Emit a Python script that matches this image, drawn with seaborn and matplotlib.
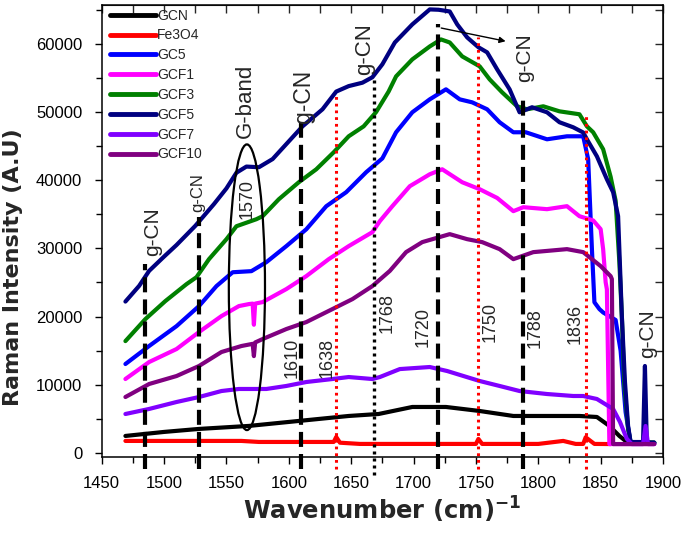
import matplotlib
matplotlib.use("Agg")
import matplotlib.pyplot as plt
import seaborn as sns
import pandas as pd
from matplotlib.patches import Ellipse

# ---------------- data ----------------
labels = ["GCN", "Fe3O4", "GC5", "GCF1", "GCF3", "GCF5", "GCF7", "GCF10"]
colors = ["#000000", "#FF0000", "#0000FF", "#FF00FF", "#008000", "#000080", "#8000FF", "#800080"]

gcn_x = [1469, 1500, 1528, 1568, 1608, 1648, 1672, 1699, 1726, 1753, 1780, 1800, 1833, 1847, 1857, 1865, 1871, 1880, 1893]
gcn_y = [2490, 3080, 3520, 3960, 4690, 5420, 5710, 6740, 6740, 6150, 5420, 5420, 5420, 5270, 3960, 2490, 1610, 1500, 1500]

fe_x = [1469, 1562, 1576, 1616, 1636, 1638, 1641, 1657, 1697, 1750, 1752, 1755, 1800, 1820, 1830, 1836, 1838, 1845, 1858]
fe_y = [1760, 1760, 1610, 1610, 1610, 2340, 1500, 1320, 1320, 1320, 2050, 1320, 1320, 1760, 1320, 1320, 2300, 1320, 1300]

gc5_x = [1469, 1488, 1510, 1528, 1542, 1555, 1570, 1582, 1598, 1614, 1630, 1646, 1662, 1675, 1686, 1699, 1713,
         1726, 1737, 1747, 1759, 1769, 1780, 1790, 1807, 1823, 1836, 1840, 1843, 1845, 1849, 1852, 1862, 1866,
         1870, 1874, 1893]
gc5_y = [13040, 15680, 18600, 21540, 24470, 26500, 26660, 27980, 30330, 32800, 36180, 38240, 41170, 43200, 47030,
         49960, 51860, 53330, 51860, 51420, 50400, 48500, 47030, 47030, 46000, 46440, 46440, 43070, 29890, 22100,
         21100, 20600, 19500, 15000, 6000, 1500, 1500]

gcf1_x = [1469, 1488, 1510, 1528, 1546, 1560, 1568, 1571, 1572, 1573, 1579, 1598, 1614, 1632, 1648, 1667, 1673,
          1683, 1697, 1713, 1723, 1739, 1753, 1767, 1780, 1788, 1807, 1823, 1833, 1844, 1850, 1852, 1854, 1855,
          1857, 1893]
gcf1_y = [10840, 13330, 15240, 17730, 20070, 21540, 21830, 21900, 18800, 21900, 22120, 24030, 25930, 28420, 30330,
          32380, 34000, 36190, 39120, 40870, 41600, 39700, 38680, 37400, 35460, 36040, 35750, 36190, 34720, 34100,
          32820, 29890, 25050, 24000, 1300, 1300]

gcf3_x = [1469, 1485, 1501, 1518, 1526, 1536, 1550, 1558, 1574, 1579, 1592, 1608, 1622, 1636, 1648, 1660, 1670,
          1680, 1686, 1699, 1713, 1722, 1729, 1739, 1753, 1761, 1771, 1783, 1791, 1804, 1817, 1833, 1839, 1844,
          1852, 1858, 1862, 1865, 1867, 1869, 1872, 1874, 1893]
gcf3_y = [16400, 19630, 22270, 24760, 25780, 28420, 31350, 33250, 34280, 34720, 37210, 39700, 41600, 44100, 46440,
          47900, 50000, 53000, 55230, 57720, 59620, 60650, 60200, 58160, 56700, 54790, 52890, 50840, 50400, 50840,
          50100, 49670, 47900, 47030, 44540, 40500, 37000, 28000, 20000, 10000, 3500, 1600, 1500]

gcf5_x = [1469, 1480, 1488, 1500, 1510, 1525, 1540, 1550, 1558, 1566, 1576, 1587, 1600, 1611, 1627, 1638, 1648,
          1659, 1667, 1675, 1685, 1699, 1713, 1720, 1729, 1735, 1743, 1752, 1759, 1767, 1777, 1785, 1795, 1807,
          1817, 1828, 1836, 1839, 1847, 1855, 1860, 1864, 1865.5, 1867, 1869.5, 1872, 1874, 1882, 1884, 1885.5,
          1887, 1889, 1893]
gcf5_y = [22200, 24500, 26700, 28800, 30500, 33300, 36500, 38800, 41100, 42000, 41900, 43100, 45700, 47900, 50400,
          53000, 53800, 54300, 55100, 57000, 60200, 62850, 65050, 65000, 64750, 62850, 60940, 59500, 58750, 56260,
          53330, 49960, 50700, 49960, 48500, 47760, 47000, 46000, 43500, 40140, 38240, 34720, 27400, 20070, 10400,
          3950, 1600, 1600, 1600, 12750, 1600, 1500, 1500]

gcf7_x = [1469, 1488, 1510, 1528, 1546, 1560, 1582, 1598, 1614, 1635, 1648, 1667, 1673, 1689, 1713, 1727, 1740,
          1753, 1769, 1785, 1807, 1828, 1836, 1847, 1860, 1865.5, 1871, 1875, 1884, 1886, 1888, 1893]
gcf7_y = [5710, 6450, 7470, 8200, 9080, 9380, 9380, 9820, 10400, 10840, 11130, 10840, 11130, 12300, 12600, 12010,
          11280, 10550, 9820, 9080, 8640, 8350, 8350, 7910, 6450, 4540, 2050, 1300, 1300, 3950, 1300, 1300]

gcf10_x = [1469, 1488, 1510, 1528, 1546, 1562, 1571, 1572, 1573, 1579, 1598, 1614, 1635, 1651, 1667, 1681, 1694,
           1707, 1729, 1743, 1755, 1769, 1780, 1796, 1823, 1836, 1850, 1858, 1859, 1860, 1893]
gcf10_y = [8200, 10110, 11280, 12750, 14800, 15680, 16000, 14200, 16200, 16700, 18170, 19190, 21100, 22560, 24470,
           26700, 29450, 30920, 32090, 31350, 30920, 29890, 28420, 29450, 29890, 29450, 27400, 25930, 25500, 1300, 1300]

series_x = [gcn_x, fe_x, gc5_x, gcf1_x, gcf3_x, gcf5_x, gcf7_x, gcf10_x]
series_y = [gcn_y, fe_y, gc5_y, gcf1_y, gcf3_y, gcf5_y, gcf7_y, gcf10_y]

# reference lines: position, colour, style, top value
vline_pos = [1485, 1528, 1610, 1638, 1668, 1720, 1752, 1788, 1838]
vline_top = [27700, 34600, 48900, 52300, 54800, 62850, 61000, 52300, 49900]
vline_kind = ["dash", "dash", "dash", "rdot", "kdot", "dash", "rdot", "dash", "rdot"]

# peak number annotations
num_text = ["1570", "1610", "1638", "1768", "1720", "1750", "1788", "1836"]
num_x = [1566.5, 1602.7, 1631, 1678.6, 1708, 1761.4, 1797.5, 1829.3]
num_y = [37300, 14000, 13870, 20590, 18540, 19270, 18250, 18980]

gcn_lab_x = [1491, 1527, 1611.5, 1661, 1789, 1888]
gcn_lab_y = [32500, 38200, 52300, 59300, 58000, 17500]
gcn_lab_size = [15, 12, 16.5, 16, 15, 15]

# ---------------- figure ----------------
sns.set_style("ticks")
plt.rcParams["font.family"] = ["Liberation Sans", "DejaVu Sans"]
plt.rcParams["mathtext.default"] = "bf"
plt.rcParams["mathtext.fontset"] = "dejavusans"

fig = plt.figure(figsize=(6.85, 5.35), dpi=100)
ax = fig.add_axes([0.1485, 0.1464, 0.8194, 0.8443])

for lab, col, xs, ys in zip(labels, colors, series_x, series_y):
    df = pd.DataFrame({"x": xs, "y": ys})
    sns.lineplot(data=df, x="x", y="y", ax=ax, color=col, lw=3.0, label=lab,
                 sort=False, estimator=None, solid_joinstyle="round")

ax.set_xlim(1450, 1900)
ax.set_ylim(-550, 65700)

for xp, top, kind in zip(vline_pos, vline_top, vline_kind):
    if kind == "dash":
        ax.plot([xp, xp], [-2400, top], color="black", lw=3.0, ls=(0, (3.6, 1.7)),
                clip_on=False, zorder=5)
    elif kind == "rdot":
        ax.plot([xp, xp], [-2400, top], color="red", lw=2.2, ls=(0, (0.9, 1.3)),
                clip_on=False, zorder=5)
    else:
        ax.plot([xp, xp], [-3200, top], color="black", lw=2.4, ls=(0, (0.9, 1.2)),
                clip_on=False, zorder=5)

# arrow from the 1720 peak to the g-CN label
ax.annotate("", xy=(1776, 60300), xytext=(1720, 62400),
            arrowprops=dict(arrowstyle="-|>", color="black", lw=1.0, mutation_scale=9),
            zorder=6)

# G-band ellipse
ax.add_patch(Ellipse((1566.4, 24300), 29, 41900, fill=False, edgecolor="black", lw=1.6, zorder=6))
ax.text(1565, 51600, "G-band", rotation=90, ha="center", va="center", fontsize=16, zorder=7)

for t, xx, yy in zip(num_text, num_x, num_y):
    ax.text(xx, yy, t, rotation=90, ha="center", va="center", fontsize=13, zorder=7)

for xx, yy, fs in zip(gcn_lab_x, gcn_lab_y, gcn_lab_size):
    ax.text(xx, yy, "g-CN", rotation=90, ha="center", va="center", fontsize=fs, zorder=7)

# axes styling
ax.set_xticks(range(1450, 1901, 50))
ax.set_xticks(range(1475, 1900, 50), minor=True)
ax.set_yticks(range(0, 60001, 10000))
ax.set_yticks(range(5000, 65001, 10000), minor=True)
ax.tick_params(axis="both", which="both", direction="out", width=1.0, colors="black",
               labelsize=12, pad=9)
ax.tick_params(axis="both", which="major", length=5)
ax.tick_params(axis="both", which="minor", length=4)
for side in ["top", "bottom", "left", "right"]:
    ax.spines[side].set_visible(True)
    ax.spines[side].set_color("black")
    ax.spines[side].set_linewidth(1.1)

# inward mirror ticks on top and right
axt = ax.secondary_xaxis("top")
axt.set_xticks(range(1450, 1901, 25))
axt.tick_params(direction="in", length=6, width=1.0, labeltop=False)
axr = ax.secondary_yaxis("right")
axr.set_yticks(range(0, 65001, 5000))
axr.tick_params(direction="in", length=6, width=1.0, labelright=False)

ax.set_xlabel(r"Wavenumber (cm)$^{-1}$", fontsize=17.5, fontweight="bold", family="DejaVu Sans")
ax.set_ylabel("Raman Intensity (A.U)", fontsize=16, fontweight="bold", family="DejaVu Sans")
ax.xaxis.set_label_coords(0.5, -0.085)
ax.yaxis.set_label_coords(-0.14, 0.42)

leg = ax.legend(loc="upper left", bbox_to_anchor=(0.013, 0.995), frameon=False,
                fontsize=10, handlelength=3.3, handletextpad=0.05, labelspacing=0.42,
                borderpad=0.1, borderaxespad=0.0)
for h in leg.get_lines():
    h.set_linewidth(3.5)

fig.savefig("out.png", dpi=100)
